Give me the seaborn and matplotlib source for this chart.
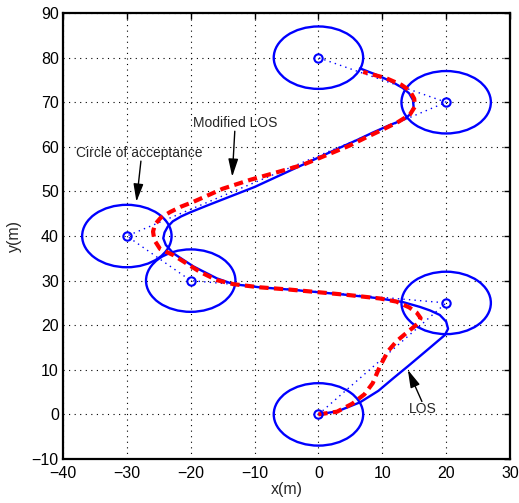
import numpy as np
import matplotlib
matplotlib.use("Agg")
import matplotlib.pyplot as plt
import seaborn as sns
from matplotlib.patches import Circle

# ---- data ----
waypoint_x = [0, 20, -20, -30, 20, 0]
waypoint_y = [0, 25, 30, 40, 70, 80]
acceptance_radius = 7

los_x = [0, 3.0, 6.5, 9.4, 11.8, 14.1, 17.0, 19.8, 20.3, 20.0, 19.0, 17.5, 15.9, 13.2,
         9.1, 4.5, 0, -4.6, -9.2, -13.3, -15.9, -19.6, -22.7, -23.9, -24.3, -24.1, -23.6,
         -22.8, -21.5, -20.1, -17.5, -15.0, -10.0, -5.0, 0.0, 3.8, 6.0, 8.5, 11.2, 13.5,
         14.5, 14.9, 14.8, 14.2, 13.2, 11.5, 9.0, 6.5]
los_y = [0, 0.7, 2.7, 5.3, 8.2, 10.9, 14.4, 17.8, 19.2, 20.8, 22.3, 23.3, 24.1, 25.2,
         26.1, 26.8, 27.4, 28.0, 28.5, 29.2, 30.5, 33.2, 36.1, 38.0, 39.5, 40.8, 42.1,
         43.3, 44.4, 45.3, 46.8, 48.2, 51.0, 54.3, 57.6, 60.1, 61.5, 63.2, 64.9, 66.2,
         67.5, 69.0, 70.5, 72.0, 73.2, 74.6, 76.2, 77.6]

mlos_x = [0, 2.9, 5.3, 7.2, 8.5, 9.6, 10.9, 12.3, 13.8, 15.6, 16.0, 15.4, 14.2, 12.2,
          9.6, 4.5, 0, -4.6, -9.2, -13.3, -15.9, -18.6, -22.7, -24.8, -25.7, -25.9, -25.6,
          -24.7, -23.2, -21.5, -19.7, -17.5, -15.0, -10.7, -6.0, -2.4, 0.0, 4.9, 7.3,
          10.1, 12.5, 14.3, 15.1, 15.0, 14.3, 13.0, 10.6, 7.0]
mlos_y = [0, 0.6, 2.4, 4.5, 7.0, 10.7, 14.2, 16.5, 18.3, 20.4, 21.6, 22.8, 24.0, 25.3,
          26.0, 26.8, 27.4, 28.0, 28.5, 29.2, 30.1, 32.0, 35.7, 37.1, 39.1, 41.0, 42.6,
          44.1, 45.4, 46.6, 47.6, 49.0, 50.6, 52.6, 54.5, 56.0, 57.4, 60.3, 62.0, 63.9,
          65.6, 67.2, 69.0, 70.8, 72.6, 73.9, 75.4, 76.8]

x_ticks = [-40, -30, -20, -10, 0, 10, 20, 30]
y_ticks = [-10, 0, 10, 20, 30, 40, 50, 60, 70, 80, 90]

# ---- style ----
sns.set_theme(style="white")
plt.rcParams['font.family'] = ['Liberation Sans', 'DejaVu Sans']
plt.rcParams['axes.unicode_minus'] = True

fig = plt.figure(figsize=(5.19, 5.03), dpi=100)
ax = fig.add_axes([0.1214, 0.0875, 0.8613, 0.8865])

blue = '#0000ff'
red = '#ff0000'

# dotted reference lines between waypoints
sns.lineplot(x=waypoint_x, y=waypoint_y, sort=False, ax=ax, color=blue,
             linestyle=(0, (1, 3)), linewidth=1.0, estimator=None)

# circles of acceptance
for wx, wy in zip(waypoint_x, waypoint_y):
    ax.add_patch(Circle((wx, wy), acceptance_radius, fill=False, edgecolor=blue,
                        linewidth=1.7, zorder=3))

# LOS path
sns.lineplot(x=los_x, y=los_y, sort=False, ax=ax, color=blue, linewidth=1.7,
             estimator=None, zorder=4)
# Modified LOS path
sns.lineplot(x=mlos_x, y=mlos_y, sort=False, ax=ax, color=red, linewidth=3.0,
             linestyle=(0, (2.2, 1.3)), estimator=None, zorder=5)

# waypoints
ax.plot(waypoint_x, waypoint_y, linestyle='none', marker='o', markersize=6,
        markerfacecolor='none', markeredgecolor=blue, markeredgewidth=1.5, zorder=6)

ax.set_xlim(-40, 30)
ax.set_ylim(-10, 90)
ax.set_xticks(x_ticks)
ax.set_yticks(y_ticks)
ax.tick_params(direction='in', length=4, width=1, top=True, right=True,
               labelsize=11.5, colors='black', pad=3)
ax.tick_params(axis='x', pad=5)
ax.grid(True, color='black', linestyle=(0, (1, 4)), linewidth=0.8)
for s in ax.spines.values():
    s.set_linewidth(1.6)
    s.set_color('black')
ax.set_xlabel('x(m)', fontsize=11.5, labelpad=1)
ax.set_ylabel('y(m)', fontsize=11.5, labelpad=7)

arrow = dict(arrowstyle='-|>,head_length=0.9,head_width=0.25', color='black',
             lw=1.0, shrinkA=0, shrinkB=0)
ax.text(-28.0, 58.6, 'Circle of acceptance', ha='center', va='center', fontsize=10)
ax.annotate('', xy=(-28.5, 47.7), xytext=(-27.8, 56.8), arrowprops=arrow, zorder=7)
ax.text(-13.1, 65.3, 'Modified LOS', ha='center', va='center', fontsize=10)
ax.annotate('', xy=(-13.5, 53.3), xytext=(-13.1, 63.5), arrowprops=arrow, zorder=7)
ax.text(16.4, 1.2, 'LOS', ha='center', va='center', fontsize=10)
ax.annotate('', xy=(14.0, 10.0), xytext=(16.2, 2.9), arrowprops=arrow, zorder=7)

fig.savefig('out.png', dpi=100)
